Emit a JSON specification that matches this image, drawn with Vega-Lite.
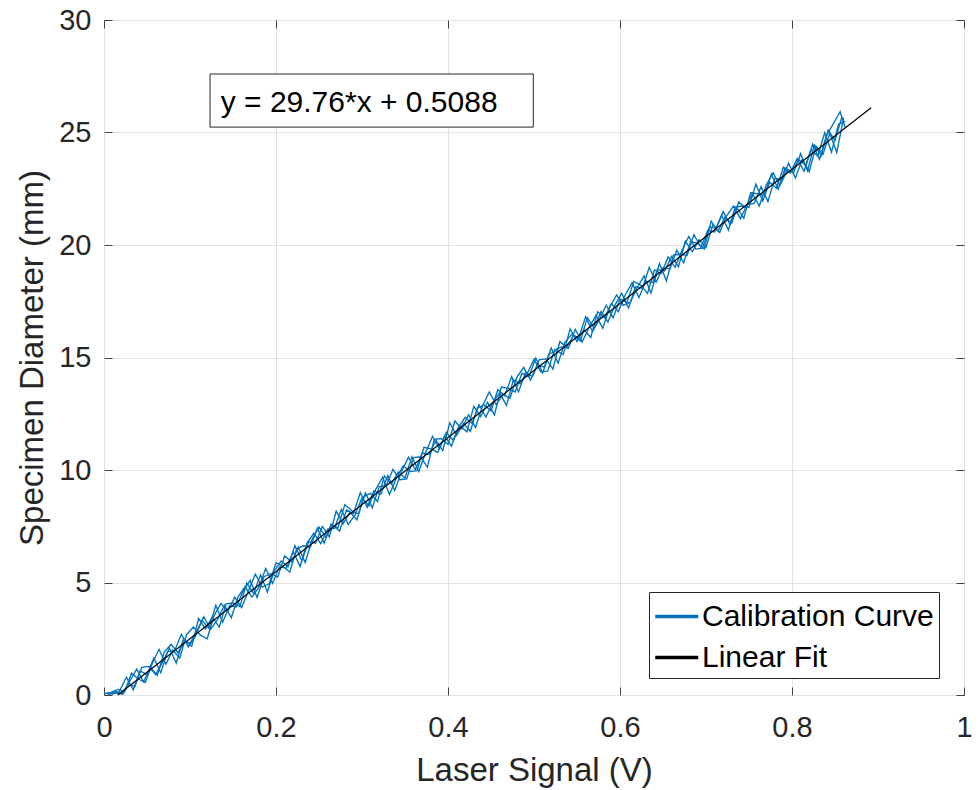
{
  "$schema": "https://vega.github.io/schema/vega-lite/v6.json",
  "width": 860,
  "height": 675,
  "autosize": "none",
  "padding": {"left": 104, "top": 20, "right": 15, "bottom": 95},
  "background": "white",
  "config": {
    "font": "Liberation Sans",
    "view": {"stroke": "#404040", "strokeWidth": 1},
    "axis": {
      "domain": false,
      "grid": true,
      "gridColor": "#e2e2e2",
      "gridWidth": 1,
      "tickColor": "#404040",
      "tickSize": -8,
      "labelFontSize": 29,
      "labelColor": "#262626",
      "labelFlush": false,
      "labelOverlap": false,
      "titleFontSize": 33,
      "titleFontWeight": "normal",
      "titleColor": "#262626"
    },
    "legend": {
      "orient": "none",
      "legendX": 545,
      "legendY": 572,
      "direction": "vertical",
      "labelFontSize": 30,
      "labelColor": "#000000",
      "labelLimit": 400,
      "labelOffset": 9,
      "symbolType": "M-1.043,0L1.414,0",
      "symbolSize": 1225,
      "symbolStrokeWidth": 3.5,
      "strokeColor": "#262626",
      "fillColor": "white",
      "padding": 5,
      "rowPadding": 6
    }
  },
  "resolve": {"axis": {"x": "independent", "y": "independent"}},
  "datasets": {
    "cal": [
      {"p":1,"x":0,"y":0.05},{"p":1,"x":0.008,"y":0.12},{"p":1,"x":0.016,"y":0.25},{"p":1,"x":0.024,"y":0.14},{"p":1,"x":0.032,"y":0.97},{"p":1,"x":0.04,"y":0.71},{"p":1,"x":0.048,"y":0.55},{"p":1,"x":0.056,"y":1.39},{"p":1,"x":0.064,"y":2.03},{"p":1,"x":0.072,"y":1.37},
      {"p":1,"x":0.08,"y":2.00},{"p":1,"x":0.088,"y":1.64},{"p":1,"x":0.096,"y":2.68},{"p":1,"x":0.104,"y":3.02},{"p":1,"x":0.112,"y":2.66},{"p":1,"x":0.12,"y":2.50},{"p":1,"x":0.128,"y":3.53},{"p":1,"x":0.136,"y":4.07},{"p":1,"x":0.144,"y":3.71},{"p":1,"x":0.152,"y":4.35},
      {"p":1,"x":0.16,"y":3.89},{"p":1,"x":0.168,"y":4.63},{"p":1,"x":0.176,"y":5.37},{"p":1,"x":0.184,"y":4.80},{"p":1,"x":0.192,"y":4.94},{"p":1,"x":0.2,"y":5.88},{"p":1,"x":0.208,"y":5.72},{"p":1,"x":0.216,"y":5.46},{"p":1,"x":0.224,"y":6.50},{"p":1,"x":0.232,"y":6.63},
      {"p":1,"x":0.24,"y":6.57},{"p":1,"x":0.248,"y":7.41},{"p":1,"x":0.256,"y":6.75},{"p":1,"x":0.264,"y":7.59},{"p":1,"x":0.272,"y":7.43},{"p":1,"x":0.28,"y":8.46},{"p":1,"x":0.288,"y":8.20},{"p":1,"x":0.296,"y":8.04},{"p":1,"x":0.304,"y":8.98},{"p":1,"x":0.312,"y":8.32},
      {"p":1,"x":0.32,"y":9.26},{"p":1,"x":0.328,"y":9.29},{"p":1,"x":0.336,"y":10.03},{"p":1,"x":0.344,"y":9.57},{"p":1,"x":0.352,"y":9.61},{"p":1,"x":0.36,"y":10.55},{"p":1,"x":0.368,"y":10.59},{"p":1,"x":0.376,"y":10.13},{"p":1,"x":0.384,"y":11.36},{"p":1,"x":0.392,"y":11.40},
      {"p":1,"x":0.4,"y":11.14},{"p":1,"x":0.408,"y":12.18},{"p":1,"x":0.416,"y":11.82},{"p":1,"x":0.424,"y":12.46},{"p":1,"x":0.432,"y":11.89},{"p":1,"x":0.44,"y":12.83},{"p":1,"x":0.448,"y":13.47},{"p":1,"x":0.456,"y":12.91},{"p":1,"x":0.464,"y":13.35},{"p":1,"x":0.472,"y":13.19},
      {"p":1,"x":0.48,"y":14.12},{"p":1,"x":0.488,"y":14.56},{"p":1,"x":0.496,"y":14.00},{"p":1,"x":0.504,"y":14.64},{"p":1,"x":0.512,"y":14.58},{"p":1,"x":0.52,"y":15.42},{"p":1,"x":0.528,"y":14.75},{"p":1,"x":0.536,"y":15.69},{"p":1,"x":0.544,"y":16.03},{"p":1,"x":0.552,"y":15.87},
      {"p":1,"x":0.56,"y":16.81},{"p":1,"x":0.568,"y":16.15},{"p":1,"x":0.576,"y":16.69},{"p":1,"x":0.584,"y":17.32},{"p":1,"x":0.592,"y":16.76},{"p":1,"x":0.6,"y":17.60},{"p":1,"x":0.608,"y":17.44},{"p":1,"x":0.616,"y":18.38},{"p":1,"x":0.624,"y":18.22},{"p":1,"x":0.632,"y":17.85},
      {"p":1,"x":0.64,"y":18.89},{"p":1,"x":0.648,"y":18.73},{"p":1,"x":0.656,"y":19.47},{"p":1,"x":0.664,"y":19.01},{"p":1,"x":0.672,"y":19.75},{"p":1,"x":0.68,"y":20.38},{"p":1,"x":0.688,"y":19.82},{"p":1,"x":0.696,"y":19.86},{"p":1,"x":0.704,"y":20.80},{"p":1,"x":0.712,"y":20.74},
      {"p":1,"x":0.72,"y":21.48},{"p":1,"x":0.728,"y":20.91},{"p":1,"x":0.736,"y":21.65},{"p":1,"x":0.744,"y":21.19},{"p":1,"x":0.752,"y":22.33},{"p":1,"x":0.76,"y":22.27},{"p":1,"x":0.768,"y":22.21},{"p":1,"x":0.776,"y":23.15},{"p":1,"x":0.784,"y":22.48},{"p":1,"x":0.792,"y":23.42},
      {"p":1,"x":0.8,"y":23.26},{"p":1,"x":0.808,"y":23.80},{"p":1,"x":0.816,"y":23.54},{"p":1,"x":0.824,"y":24.48},{"p":1,"x":0.832,"y":23.81},{"p":1,"x":0.84,"y":24.85},{"p":1,"x":0.848,"y":25.39},{"p":1,"x":0.856,"y":25.93},{"p":1,"x":0.862,"y":25.20},
      {"p":2,"x":0.004,"y":0.03},{"p":2,"x":0.012,"y":0.10},{"p":2,"x":0.02,"y":0.05},{"p":2,"x":0.028,"y":0.45},{"p":2,"x":0.036,"y":0.39},{"p":2,"x":0.044,"y":1.23},{"p":2,"x":0.052,"y":1.27},{"p":2,"x":0.06,"y":0.91},{"p":2,"x":0.068,"y":1.45},{"p":2,"x":0.076,"y":2.09},
      {"p":2,"x":0.084,"y":1.42},{"p":2,"x":0.092,"y":2.46},{"p":2,"x":0.1,"y":2.30},{"p":2,"x":0.108,"y":2.84},{"p":2,"x":0.116,"y":3.48},{"p":2,"x":0.124,"y":2.92},{"p":2,"x":0.132,"y":3.35},{"p":2,"x":0.14,"y":3.99},{"p":2,"x":0.148,"y":3.43},{"p":2,"x":0.156,"y":4.37},
      {"p":2,"x":0.164,"y":4.81},{"p":2,"x":0.172,"y":4.35},{"p":2,"x":0.18,"y":4.78},{"p":2,"x":0.188,"y":5.62},{"p":2,"x":0.196,"y":4.96},{"p":2,"x":0.204,"y":5.70},{"p":2,"x":0.212,"y":5.64},{"p":2,"x":0.22,"y":6.38},{"p":2,"x":0.228,"y":5.71},{"p":2,"x":0.236,"y":6.75},
      {"p":2,"x":0.244,"y":7.19},{"p":2,"x":0.252,"y":6.73},{"p":2,"x":0.26,"y":7.37},{"p":2,"x":0.268,"y":7.41},{"p":2,"x":0.276,"y":8.25},{"p":2,"x":0.284,"y":7.58},{"p":2,"x":0.292,"y":8.02},{"p":2,"x":0.3,"y":8.76},{"p":2,"x":0.308,"y":8.40},{"p":2,"x":0.316,"y":9.14},
      {"p":2,"x":0.324,"y":9.68},{"p":2,"x":0.332,"y":8.91},{"p":2,"x":0.34,"y":9.65},{"p":2,"x":0.348,"y":10.19},{"p":2,"x":0.356,"y":9.93},{"p":2,"x":0.364,"y":9.97},{"p":2,"x":0.372,"y":11.01},{"p":2,"x":0.38,"y":10.94},{"p":2,"x":0.388,"y":10.78},{"p":2,"x":0.396,"y":11.52},
      {"p":2,"x":0.404,"y":11.06},{"p":2,"x":0.412,"y":11.90},{"p":2,"x":0.42,"y":12.34},{"p":2,"x":0.428,"y":12.07},{"p":2,"x":0.436,"y":12.91},{"p":2,"x":0.444,"y":12.35},{"p":2,"x":0.452,"y":12.99},{"p":2,"x":0.46,"y":13.43},{"p":2,"x":0.468,"y":12.87},{"p":2,"x":0.476,"y":14.01},
      {"p":2,"x":0.484,"y":13.84},{"p":2,"x":0.492,"y":14.28},{"p":2,"x":0.5,"y":14.92},{"p":2,"x":0.508,"y":14.36},{"p":2,"x":0.516,"y":14.40},{"p":2,"x":0.524,"y":15.34},{"p":2,"x":0.532,"y":15.47},{"p":2,"x":0.54,"y":15.41},{"p":2,"x":0.548,"y":16.25},{"p":2,"x":0.556,"y":15.69},
      {"p":2,"x":0.564,"y":16.33},{"p":2,"x":0.572,"y":16.87},{"p":2,"x":0.58,"y":16.30},{"p":2,"x":0.588,"y":17.24},{"p":2,"x":0.596,"y":17.78},{"p":2,"x":0.604,"y":17.32},{"p":2,"x":0.612,"y":17.46},{"p":2,"x":0.62,"y":18.10},{"p":2,"x":0.628,"y":18.63},{"p":2,"x":0.636,"y":17.87},
      {"p":2,"x":0.644,"y":18.91},{"p":2,"x":0.652,"y":18.85},{"p":2,"x":0.66,"y":19.49},{"p":2,"x":0.668,"y":19.03},{"p":2,"x":0.676,"y":20.17},{"p":2,"x":0.684,"y":19.70},{"p":2,"x":0.692,"y":20.24},{"p":2,"x":0.7,"y":19.88},{"p":2,"x":0.708,"y":20.92},{"p":2,"x":0.716,"y":20.56},
      {"p":2,"x":0.724,"y":21.30},{"p":2,"x":0.732,"y":21.73},{"p":2,"x":0.74,"y":21.17},{"p":2,"x":0.748,"y":21.81},{"p":2,"x":0.756,"y":21.85},{"p":2,"x":0.764,"y":22.59},{"p":2,"x":0.772,"y":21.93},{"p":2,"x":0.78,"y":22.96},{"p":2,"x":0.788,"y":22.90},{"p":2,"x":0.796,"y":23.64},
      {"p":2,"x":0.804,"y":22.98},{"p":2,"x":0.812,"y":23.82},{"p":2,"x":0.82,"y":23.26},{"p":2,"x":0.828,"y":24.39},{"p":2,"x":0.836,"y":24.03},{"p":2,"x":0.844,"y":24.97},{"p":2,"x":0.852,"y":24.11},{"p":2,"x":0.86,"y":25.65},
      {"p":3,"x":0.002,"y":0.08},{"p":3,"x":0.01,"y":0.04},{"p":3,"x":0.018,"y":0.16},{"p":3,"x":0.026,"y":0.79},{"p":3,"x":0.034,"y":0.23},{"p":3,"x":0.042,"y":1.07},{"p":3,"x":0.05,"y":0.91},{"p":3,"x":0.058,"y":1.65},{"p":3,"x":0.066,"y":0.99},{"p":3,"x":0.074,"y":1.93},
      {"p":3,"x":0.082,"y":1.96},{"p":3,"x":0.09,"y":2.70},{"p":3,"x":0.098,"y":2.14},{"p":3,"x":0.106,"y":2.58},{"p":3,"x":0.114,"y":3.32},{"p":3,"x":0.122,"y":2.96},{"p":3,"x":0.13,"y":3.99},{"p":3,"x":0.138,"y":3.23},{"p":3,"x":0.146,"y":3.97},{"p":3,"x":0.154,"y":3.91},
      {"p":3,"x":0.162,"y":4.65},{"p":3,"x":0.17,"y":5.09},{"p":3,"x":0.178,"y":4.33},{"p":3,"x":0.186,"y":5.26},{"p":3,"x":0.194,"y":5.40},{"p":3,"x":0.202,"y":5.24},{"p":3,"x":0.21,"y":6.18},{"p":3,"x":0.218,"y":5.92},{"p":3,"x":0.226,"y":6.56},{"p":3,"x":0.234,"y":5.89},
      {"p":3,"x":0.242,"y":6.93},{"p":3,"x":0.25,"y":7.47},{"p":3,"x":0.258,"y":7.01},{"p":3,"x":0.266,"y":7.55},{"p":3,"x":0.274,"y":7.29},{"p":3,"x":0.282,"y":8.22},{"p":3,"x":0.29,"y":8.06},{"p":3,"x":0.298,"y":9.00},{"p":3,"x":0.306,"y":8.34},{"p":3,"x":0.314,"y":9.08},
      {"p":3,"x":0.322,"y":8.92},{"p":3,"x":0.33,"y":9.75},{"p":3,"x":0.338,"y":9.09},{"p":3,"x":0.346,"y":9.93},{"p":3,"x":0.354,"y":10.57},{"p":3,"x":0.362,"y":10.01},{"p":3,"x":0.37,"y":10.75},{"p":3,"x":0.378,"y":10.69},{"p":3,"x":0.386,"y":11.32},{"p":3,"x":0.394,"y":10.86},
      {"p":3,"x":0.402,"y":12.10},{"p":3,"x":0.41,"y":11.54},{"p":3,"x":0.418,"y":12.08},{"p":3,"x":0.426,"y":11.72},{"p":3,"x":0.434,"y":12.75},{"p":3,"x":0.442,"y":12.89},{"p":3,"x":0.45,"y":12.63},{"p":3,"x":0.458,"y":13.57},{"p":3,"x":0.466,"y":13.31},{"p":3,"x":0.474,"y":14.15},
      {"p":3,"x":0.482,"y":13.48},{"p":3,"x":0.49,"y":14.32},{"p":3,"x":0.498,"y":14.16},{"p":3,"x":0.506,"y":14.90},{"p":3,"x":0.514,"y":14.94},{"p":3,"x":0.522,"y":14.48},{"p":3,"x":0.53,"y":15.71},{"p":3,"x":0.538,"y":15.45},{"p":3,"x":0.546,"y":15.99},{"p":3,"x":0.554,"y":15.73},
      {"p":3,"x":0.562,"y":16.77},{"p":3,"x":0.57,"y":16.31},{"p":3,"x":0.578,"y":17.05},{"p":3,"x":0.586,"y":16.58},{"p":3,"x":0.594,"y":17.32},{"p":3,"x":0.602,"y":17.86},{"p":3,"x":0.61,"y":17.20},{"p":3,"x":0.618,"y":18.14},{"p":3,"x":0.626,"y":18.08},{"p":3,"x":0.634,"y":19.01},
      {"p":3,"x":0.642,"y":18.35},{"p":3,"x":0.65,"y":18.99},{"p":3,"x":0.658,"y":18.93},{"p":3,"x":0.666,"y":19.77},{"p":3,"x":0.674,"y":19.21},{"p":3,"x":0.682,"y":20.14},{"p":3,"x":0.69,"y":20.08},{"p":3,"x":0.698,"y":19.82},{"p":3,"x":0.706,"y":21.06},{"p":3,"x":0.714,"y":20.60},
      {"p":3,"x":0.722,"y":21.24},{"p":3,"x":0.73,"y":20.97},{"p":3,"x":0.738,"y":21.91},{"p":3,"x":0.746,"y":21.65},{"p":3,"x":0.754,"y":22.29},{"p":3,"x":0.762,"y":21.73},{"p":3,"x":0.77,"y":22.67},{"p":3,"x":0.778,"y":23.21},{"p":3,"x":0.786,"y":22.64},{"p":3,"x":0.794,"y":23.28},
      {"p":3,"x":0.802,"y":23.22},{"p":3,"x":0.81,"y":24.06},{"p":3,"x":0.818,"y":23.30},{"p":3,"x":0.826,"y":24.44},{"p":3,"x":0.834,"y":23.97},{"p":3,"x":0.842,"y":25.11},{"p":3,"x":0.85,"y":24.65},{"p":3,"x":0.858,"y":25.69},
      {"p":4,"x":0.006,"y":0.06},{"p":4,"x":0.014,"y":0.15},{"p":4,"x":0.022,"y":0.03},{"p":4,"x":0.03,"y":0.61},{"p":4,"x":0.038,"y":1.15},{"p":4,"x":0.046,"y":0.59},{"p":4,"x":0.054,"y":1.23},{"p":4,"x":0.062,"y":0.87},{"p":4,"x":0.07,"y":1.91},{"p":4,"x":0.078,"y":2.25},
      {"p":4,"x":0.086,"y":1.88},{"p":4,"x":0.094,"y":2.42},{"p":4,"x":0.102,"y":2.16},{"p":4,"x":0.11,"y":3.40},{"p":4,"x":0.118,"y":2.94},{"p":4,"x":0.126,"y":3.48},{"p":4,"x":0.134,"y":3.01},{"p":4,"x":0.142,"y":4.05},{"p":4,"x":0.15,"y":4.09},{"p":4,"x":0.158,"y":3.93},
      {"p":4,"x":0.166,"y":4.97},{"p":4,"x":0.174,"y":4.51},{"p":4,"x":0.182,"y":5.34},{"p":4,"x":0.19,"y":4.58},{"p":4,"x":0.198,"y":5.52},{"p":4,"x":0.206,"y":5.96},{"p":4,"x":0.214,"y":5.70},{"p":4,"x":0.222,"y":6.64},{"p":4,"x":0.23,"y":5.97},{"p":4,"x":0.238,"y":6.81},
      {"p":4,"x":0.246,"y":6.75},{"p":4,"x":0.254,"y":7.49},{"p":4,"x":0.262,"y":7.03},{"p":4,"x":0.27,"y":8.17},{"p":4,"x":0.278,"y":7.61},{"p":4,"x":0.286,"y":8.14},{"p":4,"x":0.294,"y":7.78},{"p":4,"x":0.302,"y":8.82},{"p":4,"x":0.31,"y":8.96},{"p":4,"x":0.318,"y":8.60},
      {"p":4,"x":0.326,"y":9.74},{"p":4,"x":0.334,"y":9.37},{"p":4,"x":0.342,"y":9.91},{"p":4,"x":0.35,"y":9.65},{"p":4,"x":0.358,"y":10.59},{"p":4,"x":0.366,"y":9.93},{"p":4,"x":0.374,"y":10.77},{"p":4,"x":0.382,"y":11.50},{"p":4,"x":0.39,"y":10.94},{"p":4,"x":0.398,"y":11.68},
      {"p":4,"x":0.406,"y":11.32},{"p":4,"x":0.414,"y":11.96},{"p":4,"x":0.422,"y":11.70},{"p":4,"x":0.43,"y":12.83},{"p":4,"x":0.438,"y":12.37},{"p":4,"x":0.446,"y":13.01},{"p":4,"x":0.454,"y":12.45},{"p":4,"x":0.462,"y":13.69},{"p":4,"x":0.47,"y":13.63},{"p":4,"x":0.478,"y":13.47},
      {"p":4,"x":0.486,"y":14.30},{"p":4,"x":0.494,"y":14.14},{"p":4,"x":0.502,"y":14.98},{"p":4,"x":0.51,"y":14.32},{"p":4,"x":0.518,"y":15.16},{"p":4,"x":0.526,"y":15.30},{"p":4,"x":0.534,"y":15.13},{"p":4,"x":0.542,"y":16.27},{"p":4,"x":0.55,"y":15.71},{"p":4,"x":0.558,"y":16.25},
      {"p":4,"x":0.566,"y":15.89},{"p":4,"x":0.574,"y":17.03},{"p":4,"x":0.582,"y":16.76},{"p":4,"x":0.59,"y":17.40},{"p":4,"x":0.598,"y":17.04},{"p":4,"x":0.606,"y":17.78},{"p":4,"x":0.614,"y":18.32},{"p":4,"x":0.622,"y":17.66},{"p":4,"x":0.63,"y":18.39},{"p":4,"x":0.638,"y":18.33},
      {"p":4,"x":0.646,"y":19.17},{"p":4,"x":0.654,"y":18.41},{"p":4,"x":0.662,"y":19.55},{"p":4,"x":0.67,"y":19.59},{"p":4,"x":0.678,"y":19.53},{"p":4,"x":0.686,"y":20.46},{"p":4,"x":0.694,"y":19.90},{"p":4,"x":0.702,"y":20.64},{"p":4,"x":0.71,"y":20.58},{"p":4,"x":0.718,"y":21.32},
      {"p":4,"x":0.726,"y":20.66},{"p":4,"x":0.734,"y":21.69},{"p":4,"x":0.742,"y":21.73},{"p":4,"x":0.75,"y":21.67},{"p":4,"x":0.758,"y":22.71},{"p":4,"x":0.766,"y":21.95},{"p":4,"x":0.774,"y":22.79},{"p":4,"x":0.782,"y":22.52},{"p":4,"x":0.79,"y":23.46},{"p":4,"x":0.798,"y":23.20},
      {"p":4,"x":0.806,"y":23.84},{"p":4,"x":0.814,"y":23.28},{"p":4,"x":0.822,"y":24.22},{"p":4,"x":0.83,"y":23.95},{"p":4,"x":0.838,"y":24.99},{"p":4,"x":0.846,"y":24.13},{"p":4,"x":0.854,"y":25.37},{"p":4,"x":0.862,"y":25.51}
    ],
    "fit": [
      {"x": 0.016, "y": 0},
      {"x": 0.892, "y": 26.1}
    ],
    "note": [
      {"label": "y = 29.76*x + 0.5088"}
    ]
  },
  "layer": [
    {
      "data": {"name": "cal"},
      "mark": {"type": "line", "strokeWidth": 1.35, "clip": true},
      "encoding": {
        "x": {
          "field": "x", "type": "quantitative",
          "scale": {"domain": [0, 1], "nice": false, "zero": false},
          "axis": {"values": [0, 0.2, 0.4, 0.6, 0.8, 1], "format": ".1~f", "title": "Laser Signal (V)", "labelPadding": 26, "titlePadding": 12}
        },
        "y": {
          "field": "y", "type": "quantitative",
          "scale": {"domain": [0, 30], "nice": false, "zero": false},
          "axis": {"values": [0, 5, 10, 15, 20, 25, 30], "title": "Specimen Diameter (mm)", "labelPadding": 21, "titlePadding": 9}
        },
        "detail": {"field": "p"},
        "color": {
          "datum": "Calibration Curve",
          "scale": {"domain": ["Calibration Curve", "Linear Fit"], "range": ["#0072BD", "#000000"]},
          "legend": {"title": null}
        }
      }
    },
    {
      "data": {"name": "fit"},
      "mark": {"type": "line", "strokeWidth": 1.2},
      "encoding": {
        "x": {"field": "x", "type": "quantitative", "axis": null},
        "y": {"field": "y", "type": "quantitative", "axis": null},
        "color": {"datum": "Linear Fit"}
      }
    },
    {
      "data": {"name": "note"},
      "mark": {"type": "rect", "fill": "white", "stroke": "#262626", "strokeWidth": 1},
      "encoding": {
        "x": {"datum": 0.1233, "type": "quantitative", "axis": null},
        "x2": {"datum": 0.4992},
        "y": {"datum": 27.6, "type": "quantitative", "axis": null},
        "y2": {"datum": 25.24}
      }
    },
    {
      "data": {"name": "note"},
      "mark": {"type": "text", "align": "left", "baseline": "alphabetic", "fontSize": 30, "color": "#000000"},
      "encoding": {
        "x": {"datum": 0.1357, "type": "quantitative", "axis": null},
        "y": {"datum": 25.93, "type": "quantitative", "axis": null},
        "text": {"field": "label"}
      }
    },
    {
      "data": {"name": "note"},
      "mark": {"type": "point", "opacity": 0},
      "encoding": {
        "x": {"datum": 0.5, "type": "quantitative", "axis": {"orient": "top", "values": [0, 0.2, 0.4, 0.6, 0.8, 1], "labels": false, "grid": false, "title": null}},
        "y": {"datum": 15, "type": "quantitative", "axis": {"orient": "right", "values": [0, 5, 10, 15, 20, 25, 30], "labels": false, "grid": false, "title": null}}
      }
    }
  ]
}
